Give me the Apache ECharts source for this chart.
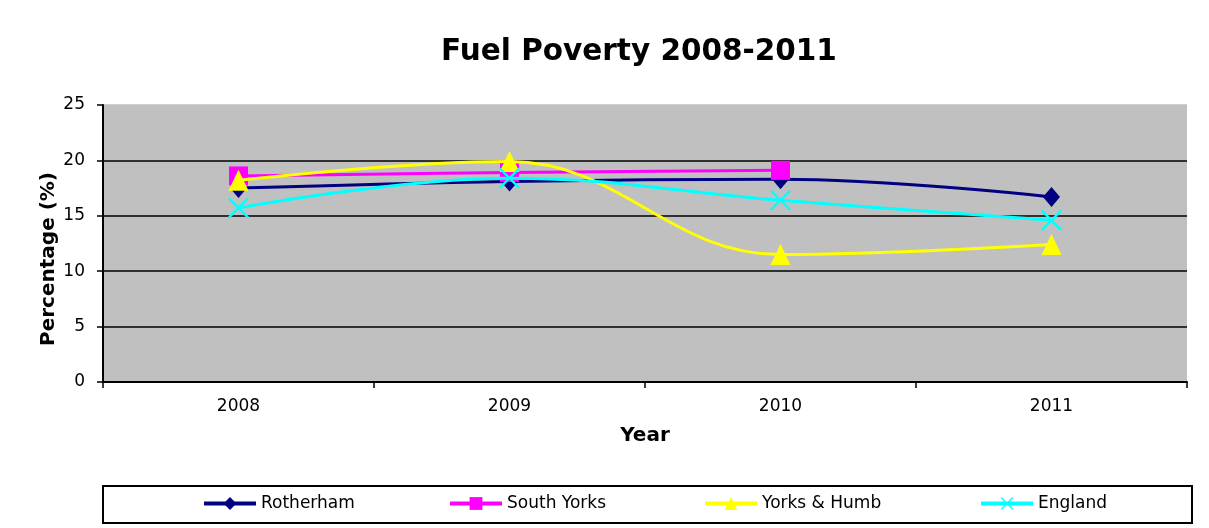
<!DOCTYPE html>
<html><head><meta charset="utf-8">
<script src="https://cdn.jsdelivr.net/npm/echarts@6/dist/echarts.min.js"></script>
<style>html,body{margin:0;padding:0;background:#fff}#c{width:1209px;height:528px}</style>
</head><body><div id="c"></div>
<script>
const years = ['2008','2009','2010','2011'];
const rotherham = [17.5, 18.1, 18.3, 16.7];
const southYorks = [18.6, 18.9, 19.1, null];
const yorksHumb = [18.2, 19.9, 11.5, 12.4];
const england = [15.7, 18.4, 16.4, 14.6];
const yTicks = [0, 5, 10, 15, 20, 25];

const xSym = 'path://M0,0.8L0.8,0L5,4.2L9.2,0L10,0.8L5.8,5L10,9.2L9.2,10L5,5.8L0.8,10L0,9.2L4.2,5Z';
const font = 'DejaVu Sans, sans-serif';

const chart = echarts.init(document.getElementById('c'));
const names = ['Rotherham','South Yorks','Yorks & Humb','England'];
const legendLefts = [202, 448, 703, 979];
chart.setOption({
  animation: false,
  textStyle: {fontFamily: font},
  title: {text: 'Fuel Poverty 2008-2011', left: 634, textAlign: 'center', top: 32,
    textStyle: {fontSize: 29.5, fontWeight: 'bold', color: '#000', fontFamily: font}},
  graphic: [
    {type: 'rect', shape: {x: 103, y: 486, width: 1089, height: 37},
      style: {fill: '#fff', stroke: '#000', lineWidth: 2}, z: -1},
    {type: 'text', x: 49, y: 259, rotation: Math.PI / 2,
      style: {text: 'Percentage (%)', font: 'bold 20px DejaVu Sans', fill: '#000', align: 'center', verticalAlign: 'middle'}}
  ],
  legend: names.map((n, i) => ({
    data: [n], left: legendLefts[i], top: 495, itemWidth: 52, itemHeight: 16, itemGap: 0,
    lineStyle: {width: 4},
    textStyle: {fontSize: 17, color: '#000', fontFamily: font}, padding: 0
  })),
  grid: {left: 103, right: 22, top: 105, bottom: 146, show: true, backgroundColor: '#C0C0C0', borderWidth: 0},
  xAxis: {type: 'category', data: years, boundaryGap: true,
    name: 'Year', nameLocation: 'middle', nameGap: 44,
    nameTextStyle: {fontSize: 20, fontWeight: 'bold', color: '#000', fontFamily: font},
    axisLine: {lineStyle: {color: '#000', width: 2}},
    axisTick: {show: true, length: 6, lineStyle: {color: '#000', width: 1.5}},
    axisLabel: {fontSize: 17, color: '#000', margin: 16, fontFamily: font}},
  yAxis: {type: 'value', min: 0, max: 25, interval: 5,
    axisLine: {show: true, lineStyle: {color: '#000', width: 2}},
    axisTick: {show: true, length: 6, lineStyle: {color: '#000', width: 1.5}},
    axisLabel: {fontSize: 17, color: '#000', margin: 18, fontFamily: font,
      formatter: v => yTicks.includes(v) ? String(v) : ''},
    splitLine: {show: true, lineStyle: {color: ['#000','#000','#000','#000','#000','#C0C0C0'], width: 1.5}}},
  series: [
    {name: 'Rotherham', type: 'line', data: rotherham, smooth: 0.4, symbol: 'diamond', symbolSize: [17, 20],
      lineStyle: {color: '#000080', width: 3}, itemStyle: {color: '#000080'}, z: 2},
    {name: 'South Yorks', type: 'line', data: southYorks, smooth: 0.4, symbol: 'rect', symbolSize: 19,
      lineStyle: {color: '#FF00FF', width: 3}, itemStyle: {color: '#FF00FF'}, z: 3},
    {name: 'Yorks & Humb', type: 'line', data: yorksHumb, smooth: 0.4, symbol: 'triangle', symbolSize: [20, 21],
      lineStyle: {color: '#FFFF00', width: 3}, itemStyle: {color: '#FFFF00'}, z: 4},
    {name: 'England', type: 'line', data: england, smooth: 0.4, symbol: xSym, symbolSize: 21,
      lineStyle: {color: '#00FFFF', width: 3}, itemStyle: {color: '#00FFFF'}, z: 5}
  ]
});
</script></body></html>
